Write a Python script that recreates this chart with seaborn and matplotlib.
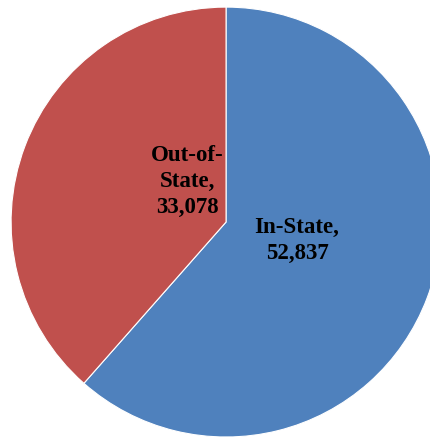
import matplotlib
matplotlib.use("Agg")
import matplotlib.pyplot as plt
import seaborn as sns

categories = ["In-State", "Out-of-State"]
values = [52837, 33078]
label_text = ["In-State,\n52,837", "Out-of-\nState,\n33,078"]

sns.set_theme(style="white")
plt.rcParams["font.family"] = ["Liberation Serif", "DejaVu Serif"]

colors = ["#4F81BD", "#C0504D"]

fig = plt.figure(figsize=(4.31, 4.37), dpi=100)
ax = fig.add_axes([0, 0, 1, 1])
ax.pie(values, colors=colors, startangle=90, counterclock=False,
       radius=1.0, wedgeprops=dict(edgecolor="white", linewidth=0.8))

# label positions (data units, pie radius = 1)
label_pos = [(0.33, -0.085), (-0.18, 0.19)]
for txt, (x, y) in zip(label_text, label_pos):
    ax.text(x, y, txt, ha="center", va="center", fontsize=16.5,
            fontweight="bold", color="black", linespacing=1.3)

ax.set_xlim(-1.051, 0.953)
ax.set_ylim(-1.0, 1.033)
ax.set_aspect("equal")
ax.axis("off")

fig.savefig("out.png", dpi=100)
